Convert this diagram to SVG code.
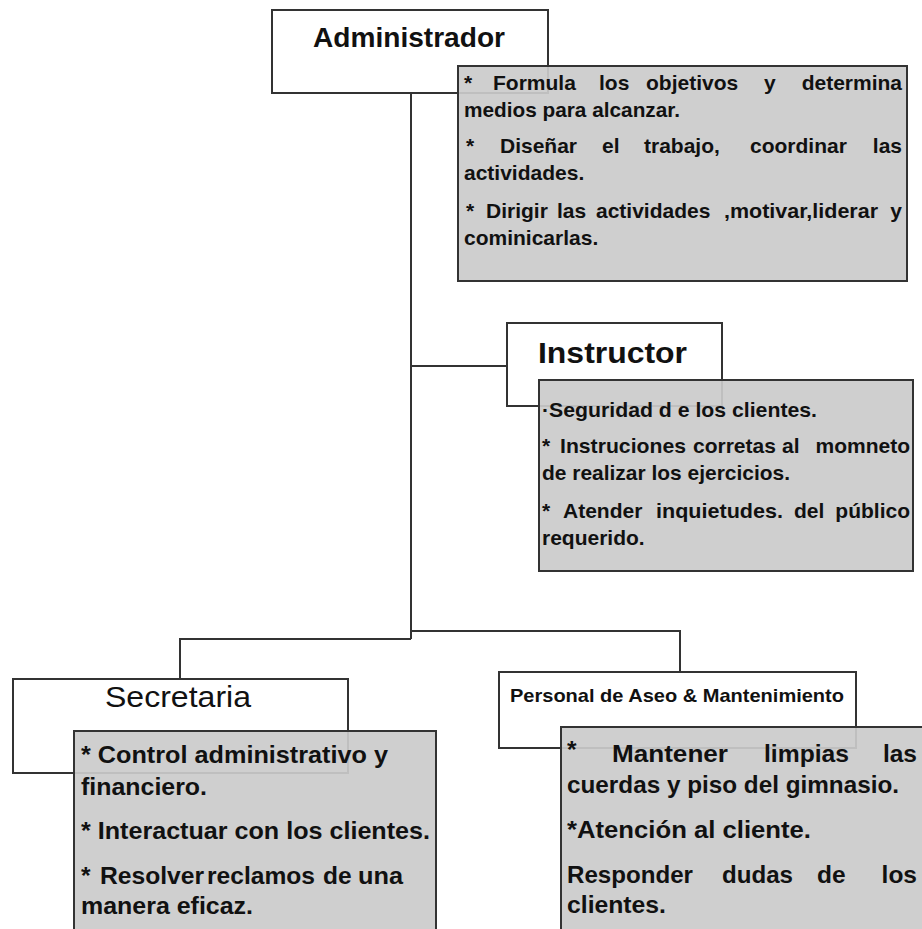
<svg xmlns="http://www.w3.org/2000/svg" width="922" height="929" viewBox="0 0 922 929">
<style>
.t{font-family:"Liberation Sans",Arial,sans-serif;fill:#111}
.b{font-weight:bold}
.w{fill:#fff;stroke:#333;stroke-width:2}
.g{fill:#cbcbcb;fill-opacity:.92;stroke:#333;stroke-width:2}
.c{fill:none;stroke:#333;stroke-width:2}
.s1{font-size:21px;font-weight:bold}
.s2{font-size:21px;font-weight:bold}
.s3{font-size:24.5px;font-weight:bold}
.e{text-anchor:end}
</style>
<rect width="922" height="929" fill="#fff"/>
<g id="connectors">
<path class="c" d="M411 93 V639"/>
<path class="c" d="M411 366 H507"/>
<path class="c" d="M411 639 H180 V679"/>
<path class="c" d="M411 631 H680 V672"/>
</g>
<g id="administrador">
<rect class="w" x="272" y="10" width="276" height="83"/>
<text class="t b" x="313" y="47" font-size="28" textLength="192" lengthAdjust="spacingAndGlyphs">Administrador</text>
<rect class="g" x="458" y="66" width="449" height="215"/>
<g class="t s1">
<text x="464" y="90">*</text>
<text x="493" y="90">Formula</text>
<text x="599" y="90">los</text>
<text x="646" y="90">objetivos</text>
<text x="764" y="90">y</text>
<text class="e" x="902" y="90">determina</text>
<text x="464" y="117" textLength="216" lengthAdjust="spacingAndGlyphs">medios para alcanzar.</text>
<text x="466" y="153">*</text>
<text x="500" y="153">Diseñar</text>
<text x="602" y="153">el</text>
<text x="644" y="153">trabajo,</text>
<text x="750" y="153">coordinar</text>
<text class="e" x="902" y="153">las</text>
<text x="464" y="180">actividades.</text>
<text x="466" y="218">*</text>
<text x="486" y="218">Dirigir</text>
<text x="557" y="218">las</text>
<text x="596" y="218">actividades</text>
<text x="724" y="218" textLength="154" lengthAdjust="spacingAndGlyphs">,motivar,liderar</text>
<text class="e" x="902" y="218">y</text>
<text x="464" y="245">cominicarlas.</text>
</g>
</g>
<g id="instructor">
<rect class="w" x="507" y="323" width="215" height="83"/>
<text class="t b" x="538" y="363" font-size="30" textLength="149" lengthAdjust="spacingAndGlyphs">Instructor</text>
<rect class="g" x="539" y="380" width="374" height="191"/>
<g class="t s2">
<text x="542" y="417" textLength="275" lengthAdjust="spacingAndGlyphs">·Seguridad d e los clientes.</text>
<text x="542" y="453">*</text>
<text x="560" y="453" textLength="126" lengthAdjust="spacingAndGlyphs">Instruciones</text>
<text x="693" y="453">corretas</text>
<text x="782" y="453">al</text>
<text class="e" x="910" y="453">momneto</text>
<text x="542" y="480" textLength="248" lengthAdjust="spacingAndGlyphs">de realizar los ejercicios.</text>
<text x="542" y="518">*</text>
<text x="563" y="518">Atender</text>
<text x="656" y="518" textLength="127" lengthAdjust="spacingAndGlyphs">inquietudes.</text>
<text x="794" y="518">del</text>
<text class="e" x="910" y="518">público</text>
<text x="542" y="545">requerido.</text>
</g>
</g>
<g id="secretaria">
<rect class="w" x="13" y="679" width="335" height="94"/>
<text class="t" x="105" y="707" font-size="30" textLength="146" lengthAdjust="spacingAndGlyphs">Secretaria</text>
<rect class="g" x="74" y="731" width="362" height="210"/>
<g class="t s3">
<text x="81" y="763" textLength="307" lengthAdjust="spacingAndGlyphs">* Control administrativo y</text>
<text x="81" y="795" textLength="126" lengthAdjust="spacingAndGlyphs">financiero.</text>
<text x="81" y="839" textLength="349" lengthAdjust="spacingAndGlyphs">* Interactuar con los clientes.</text>
<text x="81" y="884">*</text>
<text x="100" y="884" textLength="104" lengthAdjust="spacingAndGlyphs">Resolver</text>
<text x="207" y="884" textLength="108" lengthAdjust="spacingAndGlyphs">reclamos</text>
<text x="323" y="884">de</text>
<text x="358" y="884" textLength="45" lengthAdjust="spacingAndGlyphs">una</text>
<text x="81" y="914" textLength="172" lengthAdjust="spacingAndGlyphs">manera eficaz.</text>
</g>
</g>
<g id="personal">
<rect class="w" x="499" y="672" width="357" height="76"/>
<text class="t b" x="510" y="702" font-size="19" textLength="334" lengthAdjust="spacingAndGlyphs">Personal de Aseo &amp; Mantenimiento</text>
<rect class="g" x="561" y="727" width="380" height="214"/>
<g class="t s3">
<text x="567" y="758">*</text>
<text x="612" y="762" textLength="116" lengthAdjust="spacingAndGlyphs">Mantener</text>
<text x="764" y="762" textLength="85" lengthAdjust="spacingAndGlyphs">limpias</text>
<text class="e" x="917" y="762">las</text>
<text x="567" y="793" textLength="332" lengthAdjust="spacingAndGlyphs">cuerdas y piso del gimnasio.</text>
<text x="567" y="838" textLength="244" lengthAdjust="spacingAndGlyphs">*Atención al cliente.</text>
<text x="567" y="883" textLength="126" lengthAdjust="spacingAndGlyphs">Responder</text>
<text x="722" y="883" textLength="71" lengthAdjust="spacingAndGlyphs">dudas</text>
<text x="817" y="883">de</text>
<text class="e" x="917" y="883">los</text>
<text x="567" y="913" textLength="99" lengthAdjust="spacingAndGlyphs">clientes.</text>
</g>
</g>
</svg>
